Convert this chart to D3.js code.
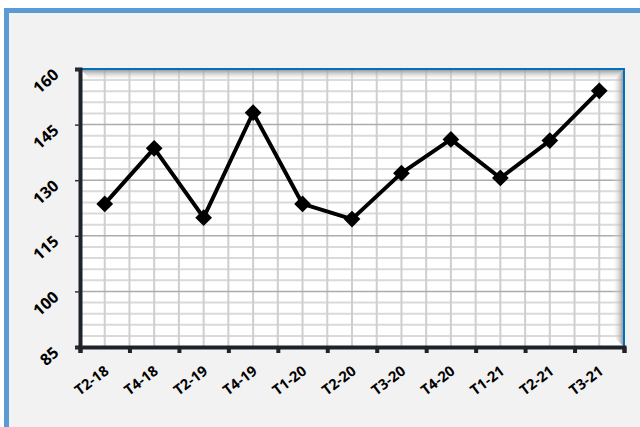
<!DOCTYPE html>
<html>
<head>
<meta charset="utf-8">
<script src="https://cdn.jsdelivr.net/npm/d3@7"></script>
<style>
  body { margin: 0; background: #fff; }
  svg { display: block; }
</style>
</head>
<body>
<svg width="640" height="427"></svg>
<script>
// quarters and index values
var quarters = ["T2-18", "T4-18", "T2-19", "T4-19", "T1-20", "T2-20", "T3-20", "T4-20", "T1-21", "T2-21", "T3-21"];
var values = [123.6, 138.6, 119.9, 148.2, 123.6, 119.5, 131.9, 141.0, 130.6, 140.7, 154.1];
var yTicks = [85, 100, 115, 130, 145, 160];

var width = 640;
var height = 427;
var margin = {left: 80, top: 69, right: 16, bottom: 80};
var plotW = width - margin.left - margin.right;
var plotH = height - margin.top - margin.bottom;
var font = "Open Sans";

var svg = d3.select('svg');

// frame
svg.append('rect')
  .attr('x', 6.5).attr('y', 10.5)
  .attr('width', 660).attr('height', 440)
  .attr('fill', '#f2f2f2')
  .attr('stroke', '#5b9bd5')
  .attr('stroke-width', 5);

var x = d3.scalePoint().domain(quarters).range([margin.left, margin.left + plotW]).padding(0.5);
var xEdge = d3.scaleLinear().domain([0, quarters.length]).range([margin.left, margin.left + plotW]);
var y = d3.scaleLinear().domain([85, 160]).range([margin.top + plotH, margin.top]);

var defs = svg.append('defs');
var gTop = defs.append('linearGradient').attr('id', 'shTop').attr('x1', 0).attr('y1', 0).attr('x2', 0).attr('y2', 1);
gTop.append('stop').attr('offset', 0).attr('stop-color', '#8a8a8a').attr('stop-opacity', 1);
gTop.append('stop').attr('offset', 1).attr('stop-color', '#ffffff').attr('stop-opacity', 0);
var gRight = defs.append('linearGradient').attr('id', 'shRight').attr('x1', 1).attr('y1', 0).attr('x2', 0).attr('y2', 0);
gRight.append('stop').attr('offset', 0).attr('stop-color', '#8a8a8a').attr('stop-opacity', 1);
gRight.append('stop').attr('offset', 1).attr('stop-color', '#ffffff').attr('stop-opacity', 0);

// plot area
svg.append('rect')
  .attr('x', margin.left).attr('y', margin.top)
  .attr('width', plotW).attr('height', plotH)
  .attr('fill', '#fff');

// minor horizontal grid
svg.append('g').selectAll('line')
  .data(d3.range(88, 160, 3).filter(function(v) { return (v - 85) % 15 != 0; }))
  .enter().append('line')
  .attr('x1', margin.left).attr('x2', margin.left + plotW)
  .attr('y1', function(d) { return y(d); }).attr('y2', function(d) { return y(d); })
  .attr('stroke', '#dadada').attr('stroke-width', 2);

// vertical grid, every half band
svg.append('g').selectAll('line')
  .data(d3.range(1, quarters.length * 2))
  .enter().append('line')
  .attr('x1', function(d) { return xEdge(d / 2); }).attr('x2', function(d) { return xEdge(d / 2); })
  .attr('y1', margin.top).attr('y2', margin.top + plotH)
  .attr('stroke', '#cfcfcf').attr('stroke-width', 2);

// major horizontal grid
svg.append('g').selectAll('line')
  .data(yTicks.slice(1, -1))
  .enter().append('line')
  .attr('x1', margin.left).attr('x2', margin.left + plotW)
  .attr('y1', function(d) { return y(d); }).attr('y2', function(d) { return y(d); })
  .attr('stroke', '#ababab').attr('stroke-width', 1.5);

// inner shadow
var L = margin.left, T = margin.top, R = margin.left + plotW, B = margin.top + plotH, s = 12;
svg.append('path')
  .attr('d', 'M' + L + ',' + T + 'L' + R + ',' + T + 'L' + (R - s) + ',' + (T + s) + 'L' + (L + s) + ',' + (T + s) + 'Z')
  .attr('fill', 'url(#shTop)');
svg.append('path')
  .attr('d', 'M' + R + ',' + T + 'L' + R + ',' + B + 'L' + (R - s) + ',' + (B - s) + 'L' + (R - s) + ',' + (T + s) + 'Z')
  .attr('fill', 'url(#shRight)');

// blue top/right border
svg.append('path')
  .attr('d', 'M' + L + ',' + T + 'L' + R + ',' + T + 'L' + R + ',' + B)
  .attr('fill', 'none').attr('stroke', '#0070c0').attr('stroke-width', 2);

// axes
var axisLeft = d3.axisLeft(y).tickValues(yTicks).tickSize(5).tickFormat('');
var gy = svg.append('g').attr('transform', 'translate(' + L + ',0)').call(axisLeft);
gy.select('.domain').attr('stroke', '#1c232b').attr('stroke-width', 4);
gy.selectAll('.tick line').attr('stroke', '#333').attr('stroke-width', 1.5);

var axisBottom = d3.axisBottom(xEdge).tickValues(d3.range(0, quarters.length + 1)).tickSize(6).tickFormat('');
var gx = svg.append('g').attr('transform', 'translate(0,' + B + ')').call(axisBottom);
gx.select('.domain').attr('stroke', '#1c232b').attr('stroke-width', 4);
gx.selectAll('.tick line').attr('stroke', '#222').attr('stroke-width', 4);

// y labels
svg.append('g').selectAll('text')
  .data(yTicks)
  .enter().append('text')
  .attr('transform', function(d) { return 'translate(' + (L - 24) + ',' + (y(d) + 3) + ') rotate(-42)'; })
  .attr('text-anchor', 'end')
  .attr('dy', '0.35em')
  .attr('font-family', font)
  .attr('font-weight', 'bold')
  .attr('font-size', 16)
  .text(function(d) { return d; });

// x labels
svg.append('g').selectAll('text')
  .data(quarters)
  .enter().append('text')
  .attr('transform', function(d) { return 'translate(' + (x(d) + 2) + ',' + (B + 22) + ') rotate(-37)'; })
  .attr('text-anchor', 'end')
  .attr('dy', '0.35em')
  .attr('font-family', font)
  .attr('font-weight', 'bold')
  .attr('font-size', 14.5)
  .text(function(d) { return d; });

// line
var line = d3.line()
  .x(function(d, i) { return x(quarters[i]); })
  .y(function(d) { return y(d); });

svg.append('path')
  .datum(values)
  .attr('d', line)
  .attr('fill', 'none')
  .attr('stroke', '#000')
  .attr('stroke-width', 4)
  .attr('stroke-linejoin', 'round');

svg.append('g').selectAll('path')
  .data(values)
  .enter().append('path')
  .attr('d', d3.symbol().type(d3.symbolSquare).size(140))
  .attr('transform', function(d, i) { return 'translate(' + x(quarters[i]) + ',' + y(d) + ') rotate(45)'; })
  .attr('fill', '#000');
</script>
</body>
</html>
